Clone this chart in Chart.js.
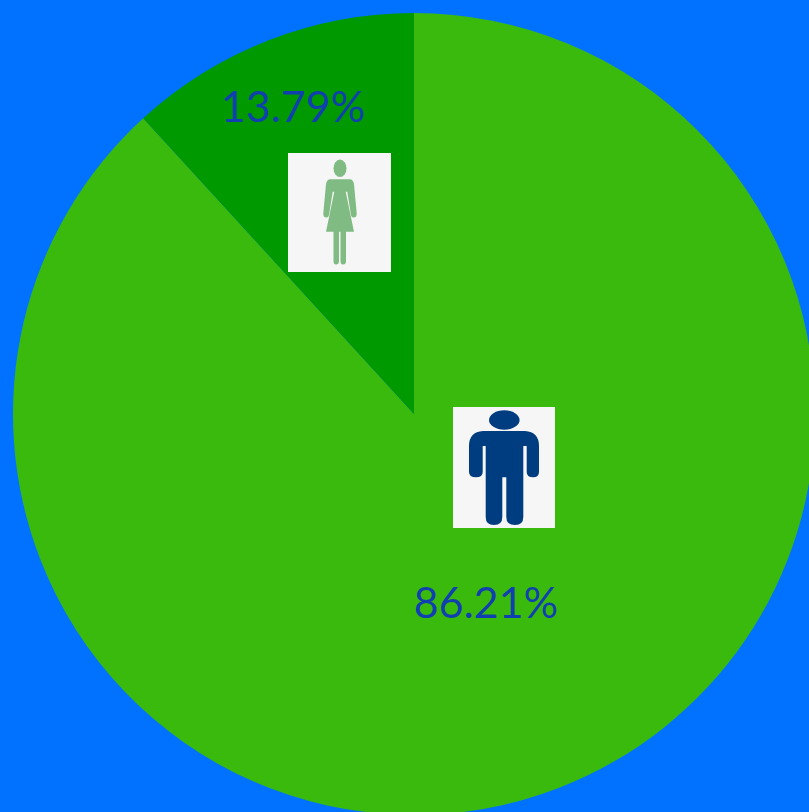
<!DOCTYPE html>
<html>
<head>
<meta charset="utf-8">
<script src="https://cdn.jsdelivr.net/npm/chart.js@4"></script>
<style>
  html, body { margin: 0; padding: 0; width: 809px; height: 812px; overflow: hidden; background: #0072ff; }
  canvas { display: block; }
</style>
</head>
<body>
<canvas id="dataPlot" width="828" height="828"></canvas>
<script>
const categories = ['Male', 'Female'];
// slice sizes as drawn in the picture, the printed labels say something else
const sliceValues = [88.2, 11.8];
const percentLabels = ['86.21%', '13.79%'];
const sliceColors = ['#3bba0e', '#009a00'];

// offsets from the pie centre
const labelOffsets = [[72, 204], [-121, -292]];
const iconBoxes = [
  { x: 39, y: -7, w: 102, h: 121 },
  { x: -126, y: -261, w: 103, h: 119 }
];

const femaleBody = 'M42 26.3 L62 26.3 Q65 26.5 66 31 L68.7 60.3 Q69 64.5 65.5 64.5 Q63 64.5 62.7 60.3 L59.3 38.7 L57.7 38.7 L66 78.7 ' +
  'L58 78.7 L58 108 Q58 111.5 55 111.5 Q52.5 111.5 52.5 108 L52.5 78.7 L51 78.7 L51 108 Q51 111.5 48 111.5 Q45.5 111.5 45.5 108 L45.5 78.7 ' +
  'L38 78.7 L46.3 38.7 L44.7 38.7 L41.3 60.3 Q41 64.5 38.5 64.5 Q35 64.5 35.3 60.3 L38 31 Q39 26.5 42 26.3 Z';
const maleBody = 'M30 24 L72 24 Q86 25 86 39 L86 65 Q86 70.3 80 70.3 Q73.7 70.3 73.7 65 L73.7 39 L70.3 39 L70.3 110 Q70.3 118 62 118 ' +
  'Q53.3 118 53.3 110 L53.3 70.3 L49.3 70.3 L49.3 110 Q49.3 118 41 118 Q32.7 118 32.7 110 L32.7 39 L29.7 39 L29.7 65 ' +
  'Q29.7 70.3 23 70.3 Q16 70.3 16 65 L16 39 Q16 25 30 24 Z';
const iconShapes = [
  { path: maleBody, color: '#003c80', head: [51.3, 13, 15.3, 9.7] },
  { path: femaleBody, color: '#7fbb82', head: [52, 15.3, 6.5, 8.7] }
];

const pieDecorations = {
  id: 'pieDecorations',
  afterDatasetsDraw(chart) {
    const ctx = chart.ctx;
    const arc = chart.getDatasetMeta(0).data[0];
    ctx.save();
    ctx.translate(arc.x, arc.y);

    iconBoxes.forEach((box, i) => {
      const shape = iconShapes[i];
      ctx.save();
      ctx.translate(box.x, box.y);
      ctx.fillStyle = '#f6f6f6';
      ctx.fillRect(0, 0, box.w, box.h);
      ctx.fillStyle = shape.color;
      ctx.fill(new Path2D(shape.path));
      ctx.beginPath();
      ctx.ellipse(shape.head[0], shape.head[1], shape.head[2], shape.head[3], 0, 0, Math.PI * 2);
      ctx.fill();
      ctx.restore();
    });

    ctx.font = '43px Lato';
    ctx.fillStyle = '#0f3fb0';
    ctx.textAlign = 'center';
    ctx.textBaseline = 'alphabetic';
    percentLabels.forEach((text, i) => {
      ctx.fillText(text, labelOffsets[i][0], labelOffsets[i][1]);
    });
    ctx.restore();
  }
};

new Chart(document.getElementById('dataPlot'), {
  type: 'pie',
  data: {
    labels: categories,
    datasets: [{
      data: sliceValues,
      backgroundColor: sliceColors,
      borderWidth: 0
    }]
  },
  options: {
    responsive: false,
    animation: false,
    layout: { padding: 13 },
    plugins: {
      legend: { display: false },
      tooltip: { enabled: false }
    }
  },
  plugins: [pieDecorations]
});
</script>
</body>
</html>
